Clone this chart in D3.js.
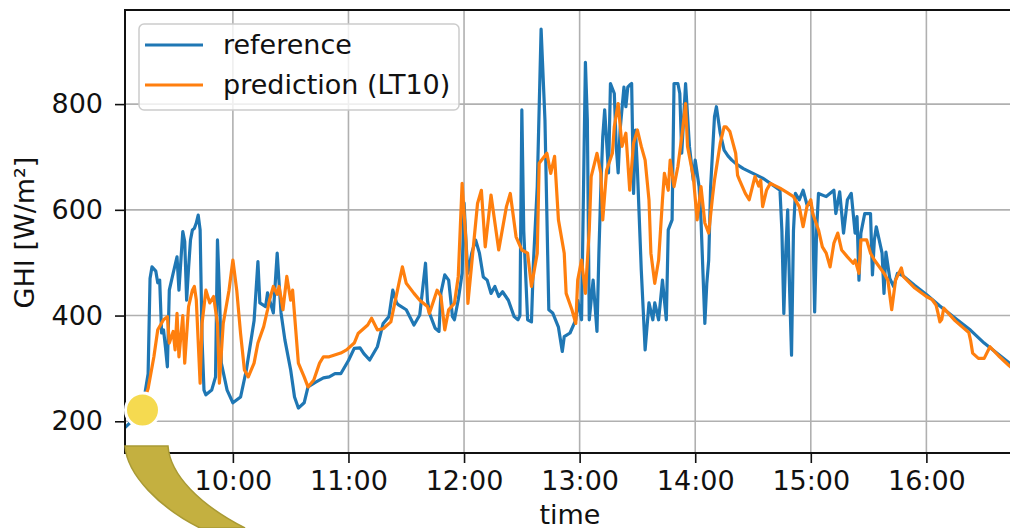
<!DOCTYPE html>
<html>
<head>
<meta charset="utf-8">
<script src="https://cdn.jsdelivr.net/npm/d3@7"></script>
<style>
  body { margin: 0; background: #fff; }
  svg { display: block; }
  text { font-family: "DejaVu Sans", sans-serif; fill: #111; }
</style>
</head>
<body>
<svg id="chart" width="1010" height="528"></svg>
<script>
// Measured global horizontal irradiance, one day, minute resolution (sampled)
const refTimes = ["09:04","09:06","09:08","09:10","09:12","09:14","09:16","09:17","09:18","09:20","09:21","09:22","09:23","09:24","09:25","09:26","09:27","09:29","09:31","09:32","09:34","09:35","09:36","09:37","09:38","09:39","09:40","09:41","09:42","09:43","09:44","09:45","09:46","09:49","09:51","09:52","09:53","09:54","09:57","10:00","10:04","10:07","10:10","10:11","10:13","10:14","10:17","10:18","10:21","10:23","10:24","10:25","10:27","10:30","10:32","10:34","10:37","10:39","10:43","10:47","10:50","10:53","10:56","11:00","11:03","11:06","11:08","11:11","11:15","11:18","11:21","11:23","11:25","11:26","11:30","11:34","11:37","11:40","11:41","11:42","11:45","11:47","11:48","11:50","11:52","11:54","11:55","11:57","11:59","12:00","12:01","12:02","12:04","12:06","12:08","12:10","12:12","12:14","12:16","12:18","12:20","12:23","12:26","12:28","12:29","12:30","12:31","12:33","12:35","12:36","12:38","12:40","12:42","12:44","12:46","12:49","12:51","12:52","12:55","12:58","12:59","13:01","13:03","13:04","13:05","13:07","13:09","13:10","13:11","13:12","13:13","13:15","13:16","13:18","13:19","13:20","13:21","13:23","13:24","13:25","13:26","13:27","13:28","13:29","13:30","13:32","13:33","13:34","13:36","13:38","13:39","13:41","13:43","13:45","13:46","13:48","13:49","13:51","13:52","13:53","13:55","13:57","13:59","14:00","14:02","14:03","14:05","14:06","14:07","14:08","14:10","14:11","14:13","14:15","14:17","14:19","14:22","14:25","14:30","14:35","14:39","14:44","14:45","14:46","14:47","14:48","14:49","14:50","14:51","14:52","14:54","14:56","14:58","15:00","15:01","15:02","15:03","15:04","15:08","15:12","15:13","15:15","15:17","15:19","15:21","15:23","15:24","15:25","15:26","15:28","15:31","15:32","15:33","15:34","15:37","15:38","15:39","15:41","15:43","15:45","15:48","15:54","16:00","16:07","16:15","16:23","16:30","16:38","16:46"];
const refValues = [188,195,203,212,225,245,290,470,492,484,462,467,367,373,340,303,448,480,511,448,559,540,429,490,543,562,565,575,590,562,354,259,250,259,284,543,448,310,259,235,246,297,367,390,502,424,417,443,405,518,461,405,354,297,246,225,235,265,274,282,284,290,290,315,338,339,328,316,341,385,398,448,424,420,411,382,401,499,429,405,376,370,443,477,467,398,392,430,480,613,540,480,518,543,518,473,467,442,455,436,445,429,398,392,400,789,560,392,388,499,644,942,770,411,405,378,332,360,367,392,429,392,879,770,392,467,370,518,640,738,789,670,839,820,720,670,751,832,795,832,836,839,631,751,675,486,411,335,424,392,424,392,467,392,562,581,839,839,820,707,839,720,656,694,644,581,385,460,505,644,776,795,745,713,702,694,685,678,669,660,650,637,560,404,520,600,450,325,560,631,619,637,610,613,593,407,560,631,625,637,593,634,556,619,631,556,587,467,556,593,593,477,543,568,518,442,520,470,455,480,475,457,440,418,395,372,348,325,302];

// Model output, lead time 10
const predTimes = ["09:10","09:12","09:14","09:16","09:19","09:21","09:24","09:26","09:27","09:29","09:30","09:31","09:32","09:34","09:35","09:37","09:39","09:40","09:41","09:43","09:44","09:46","09:48","09:50","09:52","09:53","09:55","09:58","10:00","10:02","10:04","10:06","10:08","10:11","10:13","10:16","10:18","10:19","10:21","10:23","10:24","10:26","10:28","10:30","10:31","10:34","10:37","10:39","10:42","10:45","10:47","10:50","10:56","10:59","11:03","11:05","11:10","11:12","11:15","11:18","11:22","11:24","11:28","11:30","11:34","11:37","11:41","11:42","11:46","11:48","11:50","11:52","11:55","11:57","11:59","12:01","12:02","12:07","12:09","12:11","12:14","12:18","12:22","12:24","12:27","12:30","12:33","12:35","12:38","12:39","12:43","12:45","12:47","12:49","12:52","12:53","12:56","12:58","12:59","13:01","13:03","13:05","13:06","13:09","13:11","13:12","13:14","13:17","13:18","13:20","13:22","13:24","13:26","13:28","13:30","13:32","13:34","13:36","13:37","13:39","13:41","13:43","13:44","13:46","13:47","13:49","13:51","13:53","13:55","13:56","13:59","14:01","14:03","14:05","14:07","14:09","14:10","14:13","14:15","14:16","14:18","14:21","14:22","14:23","14:26","14:28","14:31","14:33","14:34","14:35","14:37","14:39","14:44","14:48","14:51","14:54","14:56","14:58","15:00","15:01","15:04","15:06","15:08","15:10","15:12","15:14","15:16","15:19","15:22","15:23","15:25","15:26","15:29","15:31","15:33","15:38","15:40","15:42","15:44","15:47","15:48","15:54","16:00","16:03","16:05","16:06","16:07","16:08","16:09","16:15","16:22","16:23","16:24","16:27","16:30","16:33","16:38","16:43","16:46"];
const predValues = [215,228,240,262,322,373,392,398,348,370,335,404,322,400,310,417,448,455,430,272,385,448,424,436,385,272,385,448,505,448,366,297,284,310,348,379,411,429,455,440,455,411,474,429,448,310,284,265,278,310,322,322,329,335,348,366,382,395,373,375,388,423,492,461,442,429,417,404,448,436,373,411,423,474,650,540,423,612,637,530,628,524,606,631,549,524,518,455,518,688,707,669,701,581,518,442,411,385,467,505,442,562,663,707,669,581,675,707,757,801,720,745,637,726,751,720,694,619,518,461,505,619,669,637,694,644,682,738,801,720,663,581,644,575,556,625,656,726,757,757,748,707,665,656,631,619,663,645,656,606,637,650,641,632,625,606,568,606,619,593,562,530,518,492,537,556,524,511,499,505,480,543,543,518,505,480,467,411,467,490,474,452,436,430,420,405,388,393,414,390,368,352,329,319,319,341,322,305,296];

const yTickValues = [200, 400, 600, 800];
const xTickLabels = ["10:00", "11:00", "12:00", "13:00", "14:00", "15:00", "16:00"];
const seriesNames = ["reference", "prediction (LT10)"];
const seriesColors = ["#1f77b4", "#ff7f0e"];

const parseTime = d3.timeParse("%H:%M");
const ref = refTimes.map((t, i) => ({ t: parseTime(t), v: refValues[i] }));
const pred = predTimes.map((t, i) => ({ t: parseTime(t), v: predValues[i] }));

const svg = d3.select("#chart");
const plot = { left: 125, top: 10, right: 1015, bottom: 453 };
const FONT = 27;

const x = d3.scaleTime()
  .domain(d3.extent(ref, d => d.t))
  .range([plot.left, plot.right]);
const y = d3.scaleLinear()
  .domain([140, 978])
  .range([plot.bottom, plot.top]);

const xTicks = xTickLabels.map(parseTime);

// grid
const grid = svg.append("g").attr("stroke", "#b0b0b0").attr("stroke-width", 1.6);
grid.selectAll("line.v").data(xTicks).join("line")
  .attr("x1", d => x(d)).attr("x2", d => x(d))
  .attr("y1", plot.top).attr("y2", plot.bottom);
grid.selectAll("line.h").data(yTickValues).join("line")
  .attr("x1", plot.left).attr("x2", plot.right)
  .attr("y1", d => y(d)).attr("y2", d => y(d));

// series
svg.append("clipPath").attr("id", "plotClip")
  .append("rect")
  .attr("x", plot.left).attr("y", plot.top)
  .attr("width", plot.right - plot.left).attr("height", plot.bottom - plot.top);

const line = d3.line().x(d => x(d.t)).y(d => y(d.v));
const series = svg.append("g").attr("clip-path", "url(#plotClip)");
[ref, pred].forEach((data, i) => {
  series.append("path")
    .datum(data)
    .attr("d", line)
    .attr("fill", "none")
    .attr("stroke", seriesColors[i])
    .attr("stroke-width", 3.2)
    .attr("stroke-linejoin", "round")
    .attr("stroke-linecap", "square");
});

// axes
const yAxis = d3.axisLeft(y).tickValues(yTickValues).tickSize(10).tickPadding(12);
const xAxis = d3.axisBottom(x).tickValues(xTicks).tickFormat(d3.timeFormat("%H:%M"))
  .tickSize(10).tickPadding(8);

const gy = svg.append("g").attr("transform", `translate(${plot.left},0)`).call(yAxis);
const gx = svg.append("g").attr("transform", `translate(0,${plot.bottom})`).call(xAxis);
[gx, gy].forEach(g => {
  g.select(".domain").remove();
  g.selectAll(".tick line").attr("stroke", "#111").attr("stroke-width", 1.6);
  g.selectAll(".tick text").attr("font-size", FONT).attr("fill", "#111")
    .style("font-family", "'DejaVu Sans', sans-serif");
});

// spines
const spines = svg.append("g").attr("stroke", "#111").attr("stroke-width", 2).attr("fill", "none");
spines.append("rect")
  .attr("x", plot.left).attr("y", plot.top)
  .attr("width", plot.right - plot.left).attr("height", plot.bottom - plot.top);

// axis titles
svg.append("text")
  .attr("x", (plot.left + plot.right) / 2).attr("y", 524)
  .attr("text-anchor", "middle").attr("font-size", FONT)
  .text("time");
svg.append("text")
  .attr("transform", `translate(34,${(plot.top + plot.bottom) / 2 + 1}) rotate(-90)`)
  .attr("text-anchor", "middle").attr("font-size", FONT)
  .text("GHI [W/m²]");

// legend
const legend = svg.append("g");
legend.append("rect")
  .attr("x", 139).attr("y", 24).attr("width", 320).attr("height", 86).attr("rx", 5)
  .attr("fill", "#fff").attr("fill-opacity", 0.8)
  .attr("stroke", "#cccccc").attr("stroke-width", 1.5);
seriesNames.forEach((name, i) => {
  const ly = 45 + i * 40;
  legend.append("line")
    .attr("x1", 145).attr("x2", 203).attr("y1", ly).attr("y2", ly)
    .attr("stroke", seriesColors[i]).attr("stroke-width", 3.2);
  legend.append("text")
    .attr("x", 223).attr("y", ly).attr("dy", "0.35em")
    .attr("font-size", FONT)
    .text(name);
});

// highlight marker and pointer band
svg.append("path")
  .attr("d", "M125,446 L168,446 C170,475 200,505 245,528 L200,528 C160,508 127,475 125,446 Z")
  .attr("fill", "#c4b040").attr("stroke", "#a99a34").attr("stroke-width", 1.5);
svg.append("circle")
  .attr("cx", 142.5).attr("cy", 410).attr("r", 17)
  .attr("fill", "#f5da50").attr("stroke", "#fff").attr("stroke-width", 3);
</script>
</body>
</html>
